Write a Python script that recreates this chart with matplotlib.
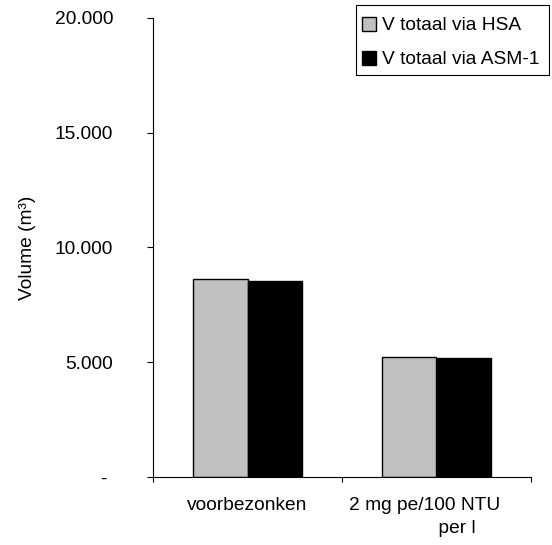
import numpy as np
import matplotlib.pyplot as plt
from matplotlib.patches import Rectangle
from matplotlib.transforms import ScaledTranslation

plt.rcParams['font.family'] = ['Liberation Sans', 'DejaVu Sans']

# data
categories = ['voorbezonken', '2 mg pe/100 NTU\n            per l']
hsa = [8610, 5240]
asm1 = [8550, 5185]
series_names = ['V totaal via HSA', 'V totaal via ASM-1']
yticks = [0, 5000, 10000, 15000, 20000]
ytick_labels = ['- ', '5.000', '10.000', '15.000', '20.000']

fs = 13.8
fig = plt.figure(figsize=(5.52, 5.45), dpi=100)
ax = fig.add_axes([153 / 552, 1 - 477 / 545, 378 / 552, 459 / 545])

x = np.arange(len(categories))
w = 0.291
ax.bar(x - w / 2, hsa, w, color='#c0c0c0', edgecolor='black', linewidth=1, label=series_names[0])
ax.bar(x + w / 2, asm1, w, color='black', edgecolor='black', linewidth=1, label=series_names[1])

ax.set_xlim(-0.5, 1.5)
ax.set_ylim(0, 20000)
ax.set_yticks(yticks)
ax.set_yticklabels(ytick_labels, fontsize=fs)
ax.tick_params(axis='y', direction='out', length=4.3, width=0.8, pad=24.5)

# category boundaries get the tick marks, names sit in between
ax.set_xticks([-0.5, 0.5, 1.5])
ax.set_xticklabels([])
ax.set_xticks(x, minor=True)
ax.set_xticklabels(categories, minor=True, fontsize=fs, linespacing=1.46)
ax.tick_params(axis='x', which='major', direction='out', length=3.5, width=0.8)
ax.tick_params(axis='x', which='minor', length=0, pad=14.5)

# Excel left the wrapped label a bit off centre
lbl = ax.get_xticklabels(minor=True)[1]
lbl.set_transform(lbl.get_transform() + ScaledTranslation(-12 / 100, 0, fig.dpi_scale_trans))

for s in ['top', 'right']:
    ax.spines[s].set_visible(False)
for s in ['left', 'bottom']:
    ax.spines[s].set_linewidth(0.8)

ax.set_ylabel('Volume (m³)', fontsize=fs)
ax.yaxis.set_label_coords(-0.31, 0.5)

# legend box, Excel style
fig.patches.append(Rectangle((356 / 552, 1 - 75 / 545), 193 / 552, 70 / 545,
                             transform=fig.transFigure, fill=False, ec='black', lw=0.8))
leg = fig.legend(loc='upper left', bbox_to_anchor=(358 / 552, 1 - 13 / 545), frameon=False,
                 fontsize=fs, handlelength=0.73, handleheight=0.73, handletextpad=0.3,
                 labelspacing=0.85, borderpad=0.2, borderaxespad=0)

fig.savefig('out.png', dpi=100)
